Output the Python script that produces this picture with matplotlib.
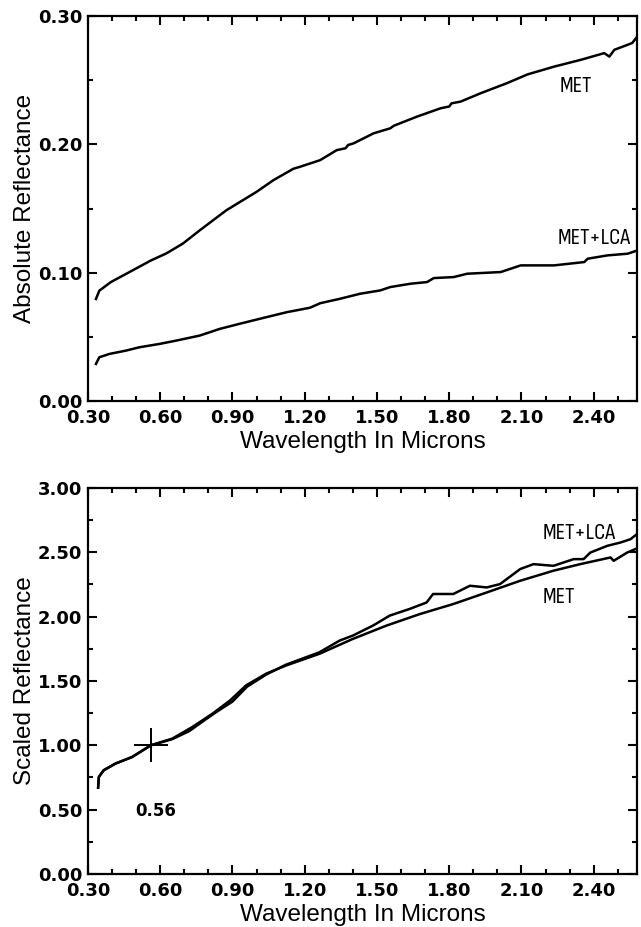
import matplotlib
matplotlib.use("Agg")
import matplotlib.pyplot as plt
import numpy as np

# top panel: absolute reflectance
top_met_x = [0.333, 0.347, 0.395, 0.485, 0.562, 0.625, 0.694, 0.764, 0.819, 0.875, 0.93, 1.0,
             1.069, 1.153, 1.18, 1.264, 1.333, 1.37, 1.38, 1.403, 1.486, 1.555, 1.57, 1.666,
             1.764, 1.80, 1.81, 1.847, 1.93, 2.04, 2.125, 2.236, 2.347, 2.444, 2.465, 2.486,
             2.541, 2.56, 2.576]
top_met_y = [0.0795, 0.086, 0.0927, 0.1018, 0.1096, 0.115, 0.1227, 0.133, 0.1408, 0.1487, 0.155, 0.163,
             0.172, 0.181, 0.1825, 0.1877, 0.1955, 0.197, 0.1995, 0.2008, 0.2086, 0.2125, 0.2145, 0.2216,
             0.2281, 0.2295, 0.232, 0.2333, 0.2398, 0.2477, 0.2545, 0.2606, 0.2659, 0.2711, 0.2684, 0.2737,
             0.2776, 0.279, 0.2828]

top_lca_x = [0.333, 0.347, 0.389, 0.458, 0.514, 0.597, 0.667, 0.764, 0.847, 0.93, 1.014, 1.125,
             1.222, 1.264, 1.347, 1.43, 1.514, 1.555, 1.639, 1.708, 1.736, 1.819, 1.875, 2.014,
             2.097, 2.236, 2.361, 2.375, 2.458, 2.541, 2.583]
top_lca_y = [0.0289, 0.0341, 0.0367, 0.0393, 0.0419, 0.0445, 0.0471, 0.051, 0.0562, 0.0602, 0.0641, 0.0692,
             0.0727, 0.0762, 0.0797, 0.0836, 0.0862, 0.0888, 0.0914, 0.0927, 0.0958, 0.0966, 0.0992, 0.1005,
             0.1057, 0.1057, 0.1083, 0.1109, 0.1135, 0.1148, 0.1174]

# bottom panel: scaled to 1 at 0.56 um
bot_met_x = [0.342, 0.345, 0.365, 0.414, 0.483, 0.561, 0.65, 0.733, 0.817, 0.89, 0.956, 1.039,
             1.122, 1.261, 1.4, 1.539, 1.678, 1.817, 1.956, 2.095, 2.233, 2.344, 2.47, 2.483,
             2.539, 2.588]
bot_met_y = [0.672, 0.754, 0.806, 0.858, 0.909, 1.0, 1.052, 1.142, 1.246, 1.349, 1.465, 1.556,
             1.62, 1.711, 1.827, 1.93, 2.02, 2.098, 2.188, 2.279, 2.357, 2.408, 2.46, 2.434,
             2.498, 2.537]

bot_lca_x = [0.342, 0.345, 0.365, 0.414, 0.483, 0.561, 0.65, 0.72, 0.78, 0.83, 0.9, 0.96,
             1.04, 1.12, 1.261, 1.345, 1.4, 1.483, 1.553, 1.636, 1.706, 1.733, 1.817, 1.886,
             1.956, 2.011, 2.039, 2.095, 2.15, 2.233, 2.317, 2.358, 2.386, 2.456, 2.511, 2.553,
             2.588]
bot_lca_y = [0.672, 0.754, 0.806, 0.858, 0.909, 1.0, 1.048, 1.11, 1.19, 1.255, 1.34, 1.455,
             1.55, 1.625, 1.723, 1.814, 1.853, 1.93, 2.008, 2.06, 2.11, 2.176, 2.176, 2.24,
             2.227, 2.253, 2.292, 2.37, 2.408, 2.395, 2.447, 2.447, 2.498, 2.55, 2.576, 2.602,
             2.654]

cross_x = [0.56]
cross_y = [1.0]

x_ticks = [0.30, 0.60, 0.90, 1.20, 1.50, 1.80, 2.10, 2.40]
x_labels = ["0.30", "0.60", "0.90", "1.20", "1.50", "1.80", "2.10", "2.40"]
top_yticks = [0.0, 0.1, 0.2, 0.3]
top_ylabels = ["0.00", "0.10", "0.20", "0.30"]
bot_yticks = [0.0, 0.5, 1.0, 1.5, 2.0, 2.5, 3.0]
bot_ylabels = ["0.00", "0.50", "1.00", "1.50", "2.00", "2.50", "3.00"]

tick_font = dict(family="DejaVu Sans", weight="bold", size=13)
label_font = dict(family="Liberation Sans", size=17.5)
note_font = dict(family=["Sofia Sans Condensed", "DejaVu Sans"], size=16.5)

fig = plt.figure(figsize=(6.41, 9.27), dpi=100)
ax1 = fig.add_axes([0.1373, 0.5674, 0.8565, 0.4153])
ax2 = fig.add_axes([0.1373, 0.0572, 0.8565, 0.4164])


def style(ax, yticks, ylabels, ymax, yminor, ylabel):
    ax.set_xlim(0.30, 2.58)
    ax.set_ylim(0, ymax)
    ax.set_xticks(x_ticks, x_labels, **tick_font)
    ax.set_xticks(np.arange(0.4, 2.58, 0.1), minor=True)
    ax.set_yticks(yticks, ylabels, **tick_font)
    ax.set_yticks(np.arange(0, ymax + 1e-9, yminor), minor=True)
    ax.tick_params(which="both", direction="in", top=True, right=True, width=1.5)
    ax.tick_params(axis="x", pad=5.5)
    ax.tick_params(axis="y", pad=4)
    ax.tick_params(which="major", length=6.5)
    ax.tick_params(which="minor", length=3.3)
    for s in ax.spines.values():
        s.set_linewidth(1.6)
    ax.set_xlabel("Wavelength In Microns", labelpad=3, **label_font)
    ax.set_ylabel(ylabel, **label_font)
    ax.yaxis.set_label_coords(-0.095, 0.5)


ax1.plot(top_met_x, top_met_y, color="black", lw=1.8)
ax1.plot(top_lca_x, top_lca_y, color="black", lw=1.8)
ax1.text(2.26, 0.245, "MET", va="center", **note_font)
ax1.text(2.25, 0.127, "MET+LCA", va="center", **note_font)
style(ax1, top_yticks, top_ylabels, 0.30, 0.05, "Absolute Reflectance")

ax2.plot(bot_met_x, bot_met_y, color="black", lw=1.8)
ax2.plot(bot_lca_x, bot_lca_y, color="black", lw=1.8)
ax2.plot(cross_x, cross_y, marker="+", ms=25, mew=1.4, color="black", ls="none")
ax2.text(0.583, 0.49, "0.56", ha="center", va="center", family="DejaVu Sans", weight="bold", size=12)
ax2.text(2.19, 2.65, "MET+LCA", va="center", **note_font)
ax2.text(2.19, 2.15, "MET", va="center", **note_font)
style(ax2, bot_yticks, bot_ylabels, 3.0, 0.25, "Scaled Reflectance")

fig.savefig("out.png", dpi=100, facecolor="white")
